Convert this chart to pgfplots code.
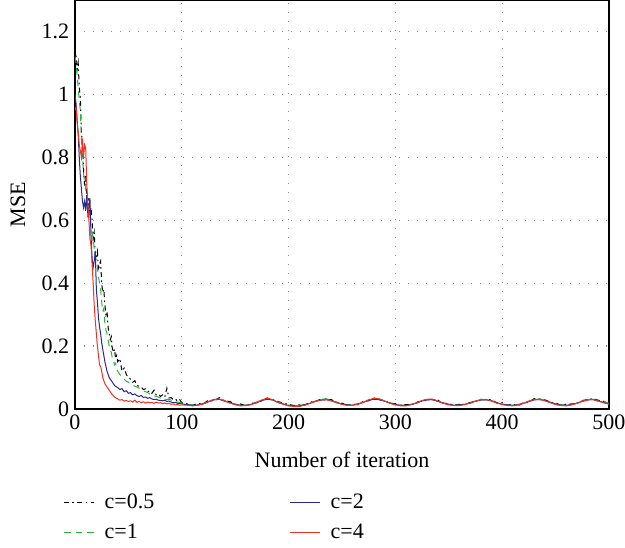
\documentclass[border=0pt]{standalone}
\usepackage{pgfplots}
\pgfplotsset{compat=1.18}
\usepackage{pgfplotstable}
\usepackage{fontspec}
\setmainfont{Liberation Serif}

\definecolor{cgreen}{RGB}{40,180,60}
\definecolor{cblue}{RGB}{45,40,140}
\definecolor{cred}{RGB}{240,50,30}

% MSE against iteration, c = 0.5
\pgfplotstableread[row sep=\\]{
x y\\
0 1.15\\ 1 1.12\\ 2 1.08\\ 3 1.10\\ 4 1.02\\ 5 0.99\\ 6 0.88\\ 7 0.84\\ 8 0.76\\ 9 0.71\\
10 0.74\\ 11 0.68\\ 12 0.64\\ 13 0.67\\ 14 0.62\\ 15 0.64\\ 16 0.60\\ 17 0.54\\ 18 0.56\\ 19 0.49\\
20 0.48\\ 21 0.50\\ 22 0.44\\ 23 0.46\\ 24 0.47\\ 25 0.40\\ 26 0.37\\ 27 0.38\\ 28 0.33\\ 29 0.30\\
30 0.31\\ 31 0.26\\ 32 0.24\\ 33 0.22\\ 34 0.23\\ 35 0.19\\ 36 0.18\\ 37 0.19\\ 38 0.16\\ 39 0.17\\
40 0.15\\ 42 0.16\\ 44 0.12\\ 46 0.13\\ 48 0.11\\ 50 0.10\\ 52 0.095\\ 54 0.085\\ 56 0.09\\ 58 0.075\\
60 0.072\\ 62 0.07\\ 64 0.062\\ 66 0.064\\ 68 0.055\\ 70 0.058\\ 72 0.05\\ 74 0.06\\ 76 0.045\\ 78 0.048\\
80 0.04\\ 82 0.045\\ 84 0.037\\ 86 0.066\\ 88 0.035\\ 90 0.036\\ 92 0.03\\ 94 0.032\\ 96 0.025\\ 98 0.03\\
100 0.02\\ 105 0.016\\ 110 0.012\\ 115 0.018\\ 120 0.016\\ 125 0.028\\ 130 0.025\\ 135 0.036\\ 140 0.026\\ 145 0.024\\
150 0.014\\ 155 0.016\\ 160 0.010\\ 165 0.018\\ 170 0.020\\ 175 0.026\\ 180 0.035\\ 185 0.030\\ 190 0.024\\ 195 0.018\\
200 0.015\\ 205 0.011\\ 210 0.013\\ 215 0.012\\ 220 0.022\\ 225 0.024\\ 230 0.031\\ 235 0.028\\ 240 0.030\\ 245 0.020\\
250 0.018\\ 255 0.012\\ 260 0.015\\ 265 0.014\\ 270 0.024\\ 275 0.026\\ 280 0.035\\ 285 0.029\\ 290 0.027\\ 295 0.018\\
300 0.017\\ 305 0.011\\ 310 0.014\\ 315 0.013\\ 320 0.022\\ 325 0.025\\ 330 0.032\\ 335 0.029\\ 340 0.028\\ 345 0.018\\
350 0.017\\ 355 0.012\\ 360 0.015\\ 365 0.014\\ 370 0.021\\ 375 0.024\\ 380 0.031\\ 385 0.029\\ 390 0.030\\ 395 0.019\\
400 0.020\\ 405 0.012\\ 410 0.015\\ 415 0.011\\ 420 0.020\\ 425 0.022\\ 430 0.033\\ 435 0.030\\ 440 0.029\\ 445 0.022\\
450 0.019\\ 455 0.012\\ 460 0.015\\ 465 0.016\\ 470 0.018\\ 475 0.027\\ 480 0.030\\ 485 0.033\\ 490 0.028\\ 495 0.024\\
500 0.020\\
}\cA

% c = 1
\pgfplotstableread[row sep=\\]{
x y\\
0 1.12\\ 1 1.10\\ 2 1.06\\ 3 1.02\\ 4 0.98\\ 5 0.95\\ 6 0.86\\ 7 0.80\\ 8 0.75\\ 9 0.72\\
10 0.70\\ 11 0.67\\ 12 0.65\\ 13 0.62\\ 14 0.61\\ 15 0.58\\ 16 0.56\\ 17 0.54\\ 18 0.51\\ 19 0.49\\
20 0.47\\ 21 0.45\\ 22 0.42\\ 23 0.40\\ 24 0.38\\ 25 0.34\\ 26 0.31\\ 27 0.32\\ 28 0.27\\ 29 0.25\\
30 0.24\\ 31 0.22\\ 32 0.20\\ 33 0.19\\ 34 0.18\\ 35 0.16\\ 36 0.155\\ 37 0.14\\ 38 0.145\\ 39 0.125\\
40 0.12\\ 42 0.11\\ 44 0.10\\ 46 0.095\\ 48 0.088\\ 50 0.085\\ 52 0.08\\ 54 0.076\\ 56 0.072\\ 58 0.07\\
60 0.066\\ 62 0.062\\ 64 0.058\\ 66 0.055\\ 68 0.052\\ 70 0.048\\ 72 0.045\\ 74 0.042\\ 76 0.04\\ 78 0.038\\
80 0.035\\ 82 0.036\\ 84 0.032\\ 86 0.03\\ 88 0.031\\ 90 0.028\\ 92 0.026\\ 94 0.025\\ 96 0.022\\ 98 0.021\\
100 0.019\\ 105 0.015\\ 110 0.013\\ 115 0.012\\ 120 0.018\\ 125 0.022\\ 130 0.031\\ 135 0.030\\ 140 0.027\\ 145 0.019\\
150 0.016\\ 155 0.011\\ 160 0.013\\ 165 0.014\\ 170 0.022\\ 175 0.027\\ 180 0.033\\ 185 0.028\\ 190 0.023\\ 195 0.015\\
200 0.013\\ 205 0.009\\ 210 0.012\\ 215 0.013\\ 220 0.020\\ 225 0.024\\ 230 0.030\\ 235 0.033\\ 240 0.026\\ 245 0.022\\
250 0.015\\ 255 0.014\\ 260 0.012\\ 265 0.017\\ 270 0.021\\ 275 0.029\\ 280 0.031\\ 285 0.032\\ 290 0.024\\ 295 0.020\\
300 0.014\\ 305 0.013\\ 310 0.011\\ 315 0.016\\ 320 0.019\\ 325 0.027\\ 330 0.029\\ 335 0.031\\ 340 0.024\\ 345 0.020\\
350 0.014\\ 355 0.014\\ 360 0.012\\ 365 0.016\\ 370 0.018\\ 375 0.026\\ 380 0.028\\ 385 0.031\\ 390 0.025\\ 395 0.021\\
400 0.015\\ 405 0.014\\ 410 0.011\\ 415 0.015\\ 420 0.017\\ 425 0.025\\ 430 0.028\\ 435 0.033\\ 440 0.026\\ 445 0.022\\
450 0.015\\ 455 0.014\\ 460 0.011\\ 465 0.015\\ 470 0.018\\ 475 0.026\\ 480 0.028\\ 485 0.031\\ 490 0.027\\ 495 0.025\\
500 0.018\\
}\cB

% c = 2
\pgfplotstableread[row sep=\\]{
x y\\
0 1.00\\ 1 0.97\\ 2 0.92\\ 3 0.87\\ 4 0.80\\ 5 0.74\\ 6 0.70\\ 7 0.66\\ 8 0.64\\ 9 0.66\\
10 0.63\\ 11 0.68\\ 12 0.62\\ 13 0.64\\ 14 0.67\\ 15 0.55\\ 16 0.48\\ 17 0.45\\ 18 0.47\\ 19 0.50\\
20 0.38\\ 21 0.34\\ 22 0.29\\ 23 0.26\\ 24 0.24\\ 25 0.21\\ 26 0.19\\ 27 0.17\\ 28 0.15\\ 29 0.135\\
30 0.12\\ 31 0.11\\ 32 0.10\\ 33 0.095\\ 34 0.09\\ 35 0.085\\ 36 0.08\\ 37 0.075\\ 38 0.072\\ 39 0.07\\
40 0.068\\ 42 0.062\\ 44 0.065\\ 46 0.055\\ 48 0.058\\ 50 0.05\\ 52 0.052\\ 54 0.045\\ 56 0.048\\ 58 0.042\\
60 0.04\\ 62 0.043\\ 64 0.037\\ 66 0.038\\ 68 0.034\\ 70 0.036\\ 72 0.032\\ 74 0.03\\ 76 0.031\\ 78 0.028\\
80 0.027\\ 82 0.026\\ 84 0.028\\ 86 0.024\\ 88 0.025\\ 90 0.022\\ 92 0.02\\ 94 0.021\\ 96 0.018\\ 98 0.017\\
100 0.016\\ 105 0.014\\ 110 0.011\\ 115 0.013\\ 120 0.016\\ 125 0.023\\ 130 0.029\\ 135 0.031\\ 140 0.025\\ 145 0.020\\
150 0.014\\ 155 0.012\\ 160 0.011\\ 165 0.015\\ 170 0.020\\ 175 0.027\\ 180 0.031\\ 185 0.029\\ 190 0.021\\ 195 0.016\\
200 0.011\\ 205 0.010\\ 210 0.010\\ 215 0.014\\ 220 0.018\\ 225 0.025\\ 230 0.028\\ 235 0.030\\ 240 0.026\\ 245 0.021\\
250 0.015\\ 255 0.013\\ 260 0.012\\ 265 0.016\\ 270 0.021\\ 275 0.028\\ 280 0.031\\ 285 0.030\\ 290 0.025\\ 295 0.019\\
300 0.014\\ 305 0.012\\ 310 0.011\\ 315 0.015\\ 320 0.019\\ 325 0.026\\ 330 0.029\\ 335 0.030\\ 340 0.024\\ 345 0.019\\
350 0.015\\ 355 0.012\\ 360 0.013\\ 365 0.015\\ 370 0.019\\ 375 0.025\\ 380 0.029\\ 385 0.029\\ 390 0.026\\ 395 0.020\\
400 0.015\\ 405 0.013\\ 410 0.012\\ 415 0.013\\ 420 0.018\\ 425 0.024\\ 430 0.029\\ 435 0.030\\ 440 0.027\\ 445 0.021\\
450 0.016\\ 455 0.012\\ 460 0.012\\ 465 0.014\\ 470 0.019\\ 475 0.024\\ 480 0.029\\ 485 0.030\\ 490 0.025\\ 495 0.021\\
500 0.016\\
}\cC

% c = 4
\pgfplotstableread[row sep=\\]{
x y\\
0 0.95\\ 1 0.96\\ 2 0.91\\ 3 0.88\\ 4 0.84\\ 5 0.82\\ 6 0.80\\ 7 0.86\\ 8 0.80\\ 9 0.84\\
10 0.83\\ 11 0.72\\ 12 0.65\\ 13 0.60\\ 14 0.54\\ 15 0.52\\ 16 0.46\\ 17 0.40\\ 18 0.33\\ 19 0.28\\
20 0.24\\ 21 0.20\\ 22 0.17\\ 23 0.14\\ 24 0.135\\ 25 0.12\\ 26 0.10\\ 27 0.09\\ 28 0.08\\ 29 0.075\\
30 0.07\\ 31 0.065\\ 32 0.06\\ 33 0.055\\ 34 0.05\\ 35 0.045\\ 36 0.042\\ 37 0.038\\ 38 0.036\\ 39 0.034\\
40 0.032\\ 42 0.028\\ 44 0.03\\ 46 0.025\\ 48 0.027\\ 50 0.024\\ 52 0.026\\ 54 0.022\\ 56 0.028\\ 58 0.021\\
60 0.024\\ 62 0.02\\ 64 0.023\\ 66 0.019\\ 68 0.022\\ 70 0.02\\ 72 0.021\\ 74 0.018\\ 76 0.022\\ 78 0.019\\
80 0.02\\ 82 0.017\\ 84 0.019\\ 86 0.016\\ 88 0.018\\ 90 0.015\\ 92 0.016\\ 94 0.013\\ 96 0.014\\ 98 0.012\\
100 0.013\\ 105 0.012\\ 110 0.010\\ 115 0.012\\ 120 0.016\\ 125 0.024\\ 130 0.030\\ 135 0.032\\ 140 0.026\\ 145 0.019\\
150 0.014\\ 155 0.010\\ 160 0.011\\ 165 0.014\\ 170 0.021\\ 175 0.029\\ 180 0.034\\ 185 0.030\\ 190 0.021\\ 195 0.015\\
200 0.010\\ 205 0.008\\ 210 0.008\\ 215 0.012\\ 220 0.018\\ 225 0.024\\ 230 0.029\\ 235 0.030\\ 240 0.026\\ 245 0.020\\
250 0.015\\ 255 0.011\\ 260 0.012\\ 265 0.015\\ 270 0.022\\ 275 0.029\\ 280 0.034\\ 285 0.032\\ 290 0.025\\ 295 0.018\\
300 0.013\\ 305 0.010\\ 310 0.010\\ 315 0.014\\ 320 0.020\\ 325 0.027\\ 330 0.031\\ 335 0.031\\ 340 0.025\\ 345 0.018\\
350 0.013\\ 355 0.011\\ 360 0.011\\ 365 0.014\\ 370 0.019\\ 375 0.025\\ 380 0.030\\ 385 0.030\\ 390 0.026\\ 395 0.019\\
400 0.014\\ 405 0.011\\ 410 0.010\\ 415 0.013\\ 420 0.018\\ 425 0.025\\ 430 0.030\\ 435 0.031\\ 440 0.026\\ 445 0.020\\
450 0.014\\ 455 0.011\\ 460 0.010\\ 465 0.013\\ 470 0.018\\ 475 0.025\\ 480 0.029\\ 485 0.030\\ 490 0.025\\ 495 0.020\\
500 0.015\\
}\cD

\begin{document}
\begin{tikzpicture}
\begin{axis}[
  scale only axis,
  width=320.4pt, height=245.4pt,
  xmin=0, xmax=500, ymin=0, ymax=1.3,
  xtick={0,100,...,500},
  ytick={0,0.2,0.4,0.6,0.8,1,1.2},
  yticklabels={0,0.2,0.4,0.6,0.8,1,1.2},
  tick style={draw=none},
  grid=major,
  major grid style={gray!90, dash pattern=on 0.8pt off 4.6pt, line width=0.7pt},
  axis line style={line width=0.7pt},
  font=\fontsize{13.2}{15}\selectfont,
  /pgf/number format/assume math mode=true,
  xlabel={Number of iteration},
  ylabel={MSE},
  xlabel style={at={(axis description cs:0.5,-0.125)}, anchor=center},
  ylabel style={at={(axis description cs:-0.107,0.5)}, anchor=center},
  legend columns=2,
  legend cell align=left,
  legend image code/.code={\draw[#1] (0pt,0pt) -- (18pt,0pt);},
  legend style={draw=none, fill=none, at={(axis description cs:-0.032,-0.19)}, anchor=north west,
    font=\fontsize{13.2}{15}\selectfont,
    /tikz/every odd column/.append style={column sep=4pt},
    /tikz/every even column/.append style={column sep=79pt},
    row sep=4pt},
  every axis plot/.append style={line width=0.6pt},
]
\addplot[black, dash pattern=on 3pt off 2pt on 1pt off 2pt, forget plot] table[x=x,y=y] {\cA};
\addplot[cgreen, dash pattern=on 4pt off 3pt, forget plot] table[x=x,y=y] {\cB};
\addplot[cblue, forget plot] table[x=x,y=y] {\cC};
\addplot[cred, forget plot] table[x=x,y=y] {\cD};
\addlegendimage{black, dash pattern=on 3pt off 2pt on 1pt off 2pt, line width=0.8pt}
\addlegendentry{c=0.5}
\addlegendimage{cblue, line width=0.8pt}
\addlegendentry{c=2}
\addlegendimage{cgreen, dash pattern=on 4pt off 3pt, line width=0.8pt}
\addlegendentry{c=1}
\addlegendimage{cred, line width=0.8pt}
\addlegendentry{c=4}
\coordinate (sw) at (rel axis cs:0,0);
\coordinate (ne) at (rel axis cs:1,1);
\end{axis}
\pgfresetboundingbox
\path ([xshift=-45pt,yshift=-83.4pt]sw) rectangle ([xshift=9.6pt]ne);
\end{tikzpicture}
\end{document}
